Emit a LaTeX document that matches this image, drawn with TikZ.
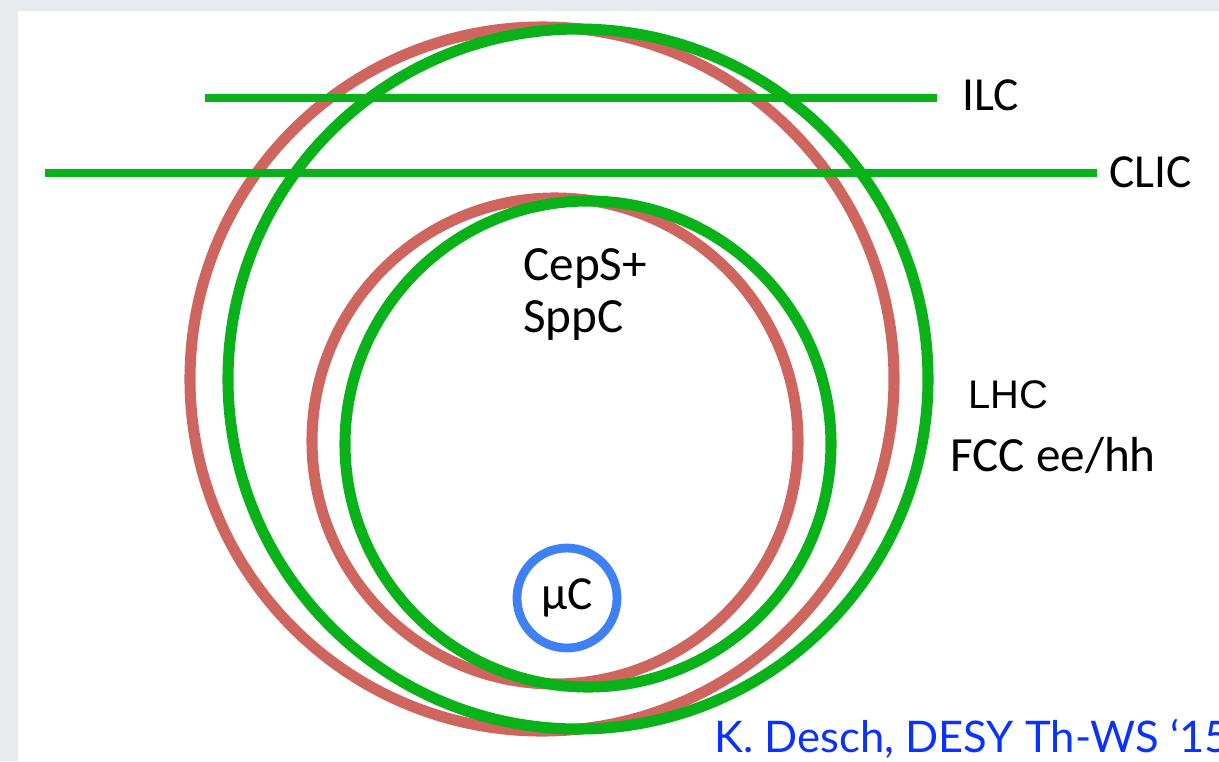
\documentclass[tikz,border=0pt]{standalone}
\usepackage{fontspec}
\setmainfont{Carlito}
\newfontfamily\lhcfont{Liberation Sans}
\newfontfamily\citefont{Lato}
\usetikzlibrary{positioning}

\definecolor{ringred}{RGB}{206,101,94}
\definecolor{ringgreen}{RGB}{10,178,25}
\definecolor{ringblue}{RGB}{64,128,245}
\definecolor{citeblue}{RGB}{10,50,255}
\definecolor{slidegray}{RGB}{233,234,238}

\tikzstyle{ring} = [line width=6.3pt]
\tikzstyle{beamline} = [draw=ringgreen, line width=4.3pt]
\tikzstyle{label} = [inner sep=0pt, anchor=base west, font=\fontsize{27}{30}\selectfont]

\begin{document}
\begin{tikzpicture}[x=0.02cm, y=0.02cm]
      \useasboundingbox (0,0) rectangle (1219,-761);
      \fill[slidegray] (0,0) rectangle (1219,-761);
      \fill[white] (18,-11) rectangle (1219,-761);
      % circular machines
      \draw[ring, ringred] (542,-379) circle [radius=352];
      \draw[ring, ringgreen] (578,-379) circle [radius=350];
      \draw[ring, ringred] (555,-441) circle [radius=243];
      \draw[ring, ringgreen] (588,-444) circle [radius=243];
      \node[circle, draw=ringblue, line width=5pt, minimum size=2cm, inner sep=0pt,
            font=\fontsize{27}{30}\selectfont] (muc) at (567,-598) {µC};
      % labels
      \node[label] (ilc) at (962,-110) {ILC};
      \node[label] (clic) at (1109,-187) {CLIC};
      \node[label, align=left, font=\fontsize{28}{29.5}\selectfont] (cepc) at (523,-332) {CepS+\\SppC};
      \node[label, font=\lhcfont\fontsize{22.7}{26}\selectfont] (lhc) at (968,-408) {LHC};
      \node[label, font=\fontsize{28}{30}\selectfont] (fcc) at (950,-471) {FCC ee/hh};
      \node[label, font=\citefont\fontsize{24.8}{30}\selectfont, text=citeblue] (cite) at (714,-752) {K. Desch, DESY Th-WS ‘15};
      % linear colliders
      \coordinate (ilcfrom) at (205,-98);
      \coordinate (clicfrom) at (45,-173);
      \draw[beamline, shorten >=14pt] (ilcfrom) -- (ilcfrom -| ilc.west);
      \draw[beamline, shorten >=7pt] (clicfrom) -- (clicfrom -| clic.west);
    \end{tikzpicture}
\end{document}
